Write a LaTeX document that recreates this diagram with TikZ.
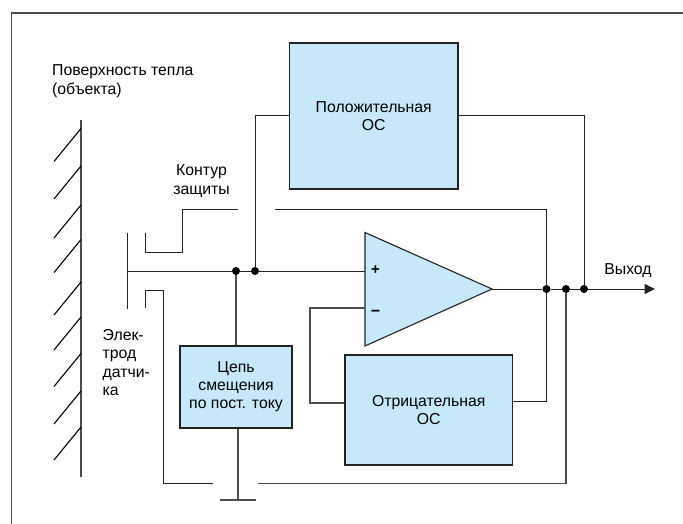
\documentclass[tikz,border=0pt]{standalone}
\usepackage{fontspec}
\setmainfont{Liberation Sans}
\usepackage{xcolor}
\usetikzlibrary{arrows.meta, positioning}
\definecolor{boxblue}{HTML}{C6E8F9}
\definecolor{wiregray}{HTML}{222222}
\tikzset{
    wire/.style={line width=1pt, draw=wiregray},
    heavywire/.style={line width=1.25pt, draw=black!70},
    block/.style={draw=wiregray, line width=1.1pt, fill=boxblue, align=center, inner sep=0pt, font=\fontsize{15.8}{18}\selectfont},
    dot/.style={circle, fill=black, inner sep=0pt, minimum size=8pt},
    caption/.style={align=left, inner sep=0pt, font=\fontsize{15.8}{18.5}\selectfont},
    hatch/.style={line width=1.1pt, draw=black}
}

\begin{document}
\begin{tikzpicture}[x=1pt,y=-1pt]
    \useasboundingbox (0,0) rectangle (683,524);

        % Outer frame, open to the right and below
        \coordinate (framebl) at (11.5,524);
        \coordinate (frametl) at (11.5,13);
        \coordinate (frametr) at (683,13);
        \draw[heavywire] (framebl) -- (frametl) -- (frametr);

        % Heated surface on the left
        \coordinate (walltop) at (81,120);
        \coordinate (wallbot) at (81,476.5);
        \draw[heavywire] (walltop) -- (wallbot);
        \foreach \ya in {128.5,166,205,239.5,282,317,353.5,391,427} {
            \draw[hatch] (81,\ya) -- ++(-27,33);
        }
        \node[caption,anchor=west] (surfacelabel) at (52,81) {Поверхность тепла\\(объекта)};

        % Blocks
        \node[block,minimum width=168.5pt,minimum height=146pt] (posfb) at (373.75,116) {Положительная\\ОС};
        \node[block,minimum width=167.5pt,minimum height=110pt] (negfb) at (428.75,410) {Отрицательная\\ОС};
        \node[block,minimum width=112pt,minimum height=82pt] (bias) at (236,387) {Цепь\\смещения\\по пост. току};

        % Amplifier
        \coordinate (amptop) at (365,232.5);
        \coordinate (ampbot) at (365,346);
        \coordinate (ampout) at (492,289);
        \coordinate (ampplus) at (365,271);
        \coordinate (ampminus) at (365,308);
        \draw[block] (amptop) -- (ampout) -- (ampbot) -- cycle;
        \node[inner sep=0pt,font=\bfseries\fontsize{15}{15}\selectfont] (plussign) at (375.5,270) {+};
        \node[inner sep=0pt,font=\bfseries\fontsize{16}{16}\selectfont] (minussign) at (375.5,313) {\textminus};

        % Sensor electrode and input line
        \coordinate (elecup) at (127.5,233);
        \coordinate (eleclow) at (127.5,309);
        \coordinate (elecmid) at (127.5,271);
        \draw[wire] (elecup) -- (eleclow);
        \node[dot] (biasdot) at (236,271) {};
        \node[dot] (posdot) at (255,271) {};
        \draw[wire] (elecmid) -- (biasdot) -- (posdot) -- (ampplus);
        \draw[heavywire] (biasdot) -- (bias.north);
        \draw[wire] (posdot) |- (posfb.west);
        \node[caption,anchor=west] (eleclabel) at (102.5,362.5) {Элек-\\трод\\датчи-\\ка};

        % Guard ring, upper part
        \coordinate (guardua) at (145,233);
        \coordinate (guardub) at (145,252);
        \coordinate (guarduc) at (182.5,252);
        \coordinate (guardud) at (182.5,209);
        \coordinate (guardue) at (237.5,209);
        \coordinate (guarduf) at (275,209);
        \draw[wire] (guardua) -- (guardub) -- (guarduc) -- (guardud) -- (guardue);
        \node[caption,align=center] (guardlabel) at (201.5,181) {Контур\\защиты};

        % Guard ring, lower part
        \coordinate (guardla) at (145,308);
        \coordinate (guardlb) at (145,290);
        \coordinate (guardlc) at (163.5,290);
        \coordinate (guardld) at (163.5,483.5);
        \coordinate (guardle) at (213,483.5);
        \coordinate (guardlf) at (257.5,483.5);
        \draw[wire] (guardla) -- (guardlb) -- (guardlc) -- (guardld) -- (guardle);

        % Output line
        \node[dot] (negdot) at (546.5,289) {};
        \node[dot] (guarddot) at (566,289) {};
        \node[dot] (outdot) at (584,289) {};
        \coordinate (outend) at (655,289);
        \draw[wire] (ampout) -- (negdot) -- (guarddot) -- (outdot);
        \draw[wire,-{Triangle[length=10.5pt,width=10pt]}] (outdot) -- (outend);
        \node[caption,align=center] (outlabel) at (628,271) {Выход};

        % Feedback wires
        \draw[wire] (posfb.east) -| (outdot);
        \draw[wire] (guarduf) -| (negdot);
        \draw[wire] (negfb.east |- 546.5,401.5) -| (negdot);
        \coordinate (invbend) at (310,308);
        \coordinate (invlow) at (310,403);
        \draw[heavywire] (ampminus) -- (invbend) -- (invlow) -- (negfb.west |- invlow);
        \draw[heavywire] (guardlf) -| (guarddot);

        % Ground
        \coordinate (gndmid) at (238,500);
        \coordinate (gndl) at (220,500);
        \coordinate (gndr) at (256,500);
        \draw[heavywire] (bias.south -| gndmid) -- (gndmid);
        \draw[heavywire] (gndl) -- (gndr);

\end{tikzpicture}
\end{document}
